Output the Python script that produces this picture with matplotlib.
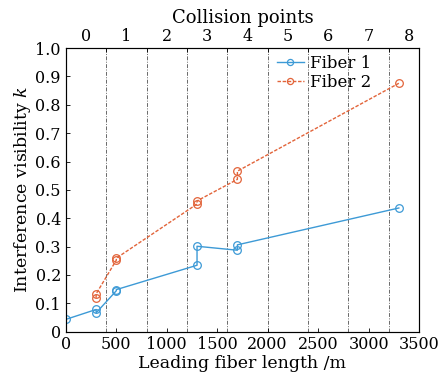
import numpy as np
import matplotlib.pyplot as plt

plt.rcParams['font.family'] = 'DejaVu Serif'
plt.rcParams['mathtext.fontset'] = 'dejavuserif'

# measurements
fiber1_len = [0, 300, 300, 500, 500, 1300, 1300, 1700, 1700, 3300]
fiber1_k = [0.043, 0.078, 0.066, 0.144, 0.148, 0.234, 0.301, 0.287, 0.306, 0.436]
fiber2_len = [300, 300, 500, 500, 1300, 1300, 1700, 1700, 3300]
fiber2_k = [0.119, 0.133, 0.252, 0.259, 0.450, 0.461, 0.537, 0.566, 0.876]

# collision point boundaries and top-axis labels
boundaries = [400, 800, 1200, 1600, 2000, 2400, 2800, 3200]
collision_pos = [200, 600, 1000, 1400, 1800, 2200, 2600, 3000, 3400]
collision_labels = ['0', '1', '2', '3', '4', '5', '6', '7', '8']

blue = '#3d9ad6'
orange = '#e2643a'

fig = plt.figure(figsize=(4.42, 3.82), dpi=100)
ax = fig.add_axes([0.149, 0.132, 0.799, 0.742])

for b in boundaries:
    ax.axvline(b, color='#6a6a6a', lw=0.7, ls=(0, (4, 1.5, 1, 1.5)), zorder=1)

ax.plot(fiber1_len, fiber1_k, '-o', color=blue, lw=1.0, ms=5.5, mfc='none',
        mew=0.9, label='Fiber 1', zorder=3)
ax.plot(fiber2_len, fiber2_k, '--o', color=orange, lw=1.0, ms=5.5, mfc='none',
        mew=0.9, dashes=(2.5, 1.2), label='Fiber 2', zorder=3)

ax.set_xlim(0, 3500)
ax.set_ylim(0, 1.0)
ax.set_xticks(np.arange(0, 3501, 500))
ax.set_yticks(np.arange(0, 1.01, 0.1))
ax.set_yticklabels(['0'] + ['%.1f' % v for v in np.arange(0.1, 1.01, 0.1)])
ax.tick_params(direction='in', length=3, labelsize=11.5, width=0.6)
for s in ax.spines.values():
    s.set_linewidth(0.8)
    s.set_color('#444444')

ax.set_xlabel('Leading fiber length /m', fontsize=12.5, labelpad=1)
ax.set_ylabel('Interference visibility $\\it{k}$', fontsize=12.5, labelpad=2)

top = ax.twiny()
top.set_xlim(ax.get_xlim())
top.set_xticks(boundaries)
top.set_xticklabels([])
top.set_xticks(collision_pos, minor=True)
top.set_xticklabels(collision_labels, minor=True)
top.tick_params(which='major', direction='in', length=3, width=0.6)
top.tick_params(which='minor', length=0, labelsize=11.5, pad=2)
top.set_xlabel('Collision points', fontsize=13, labelpad=4)

ax.legend(loc='upper left', bbox_to_anchor=(0.57, 1.01), frameon=False,
          fontsize=12, handlelength=1.6, handletextpad=0.4, labelspacing=0.1,
          borderaxespad=0.2, markerscale=0.8)

fig.savefig('out.png', dpi=100)
